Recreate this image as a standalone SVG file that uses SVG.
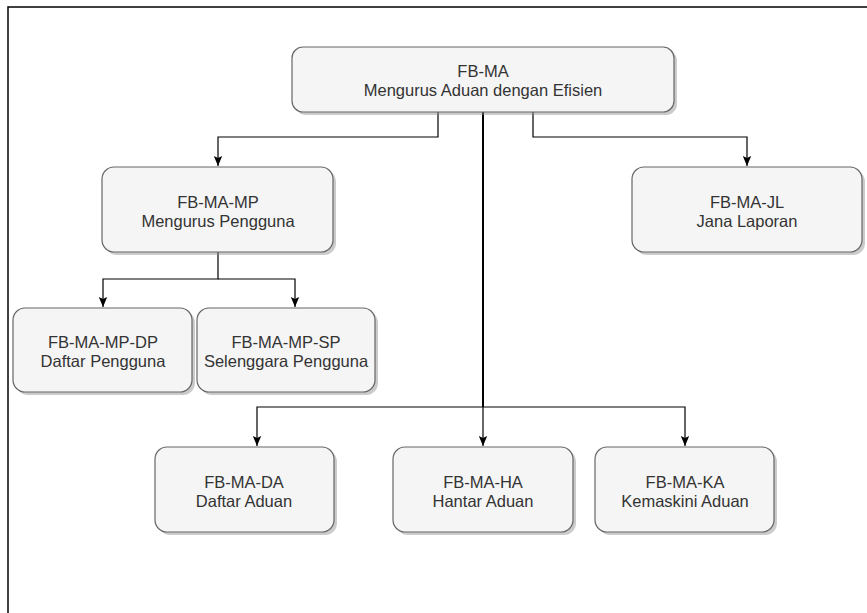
<svg xmlns="http://www.w3.org/2000/svg" width="867" height="613" viewBox="0 0 867 613">
  <style>
    .box { fill: #f5f5f5; stroke: #666666; stroke-width: 1.2; }
    .shadow { fill: #8c8c8c; opacity: 0.45; }
    .lbl { font-family: "Liberation Sans", Arial, sans-serif; font-size: 16.5px; fill: #333333; text-anchor: middle; }
    .edge { fill: none; stroke: #000000; stroke-width: 1.2; }
    .frame { fill: none; stroke: #000000; stroke-width: 1.5; }
  </style>
  <defs>
    <marker id="arr" markerUnits="userSpaceOnUse" markerWidth="10" markerHeight="10" viewBox="0 0 10 10" refX="10" refY="5" orient="auto">
      <path d="M0,0.8 L10,5 L0,9.2 L2,5 Z" fill="#000000"/>
    </marker>
  </defs>
  <rect width="867" height="613" fill="#ffffff"/>
  <path class="frame" d="M8,613 L8,7 L867,7"/>

  <g id="connectors">
    <path class="edge" d="M438,112 L438,137 L218,137 L218,166" marker-end="url(#arr)"/>
    <path class="edge" d="M533,112 L533,137 L747,137 L747,166" marker-end="url(#arr)"/>
    <path class="edge" d="M218,252 L218,279 L103,279 L103,307" marker-end="url(#arr)"/>
    <path class="edge" d="M218,279 L295,279 L295,307" marker-end="url(#arr)"/>
    <path class="edge" style="stroke-width:2" d="M483,112 L483,407"/>
    <path class="edge" d="M483,407 L483,446" marker-end="url(#arr)"/>
    <path class="edge" d="M483,407 L257,407 L257,446" marker-end="url(#arr)"/>
    <path class="edge" d="M483,407 L685,407 L685,446" marker-end="url(#arr)"/>
  </g>

  <g id="FB-MA">
    <rect class="shadow" x="295" y="50" width="382" height="65" rx="11"/>
    <rect class="box" x="292" y="47" width="382" height="65" rx="11"/>
    <text class="lbl" x="483" y="77">FB-MA</text>
    <text class="lbl" x="483" y="96">Mengurus Aduan dengan Efisien</text>
  </g>

  <g id="FB-MA-MP">
    <rect class="shadow" x="105" y="170" width="231" height="85" rx="12"/>
    <rect class="box" x="102" y="167" width="231" height="85" rx="12"/>
    <text class="lbl" x="218" y="208">FB-MA-MP</text>
    <text class="lbl" x="218" y="227">Mengurus Pengguna</text>
  </g>

  <g id="FB-MA-JL">
    <rect class="shadow" x="635" y="170" width="230" height="85" rx="12"/>
    <rect class="box" x="632" y="167" width="230" height="85" rx="12"/>
    <text class="lbl" x="747" y="208">FB-MA-JL</text>
    <text class="lbl" x="747" y="227">Jana Laporan</text>
  </g>

  <g id="FB-MA-MP-DP">
    <rect class="shadow" x="16" y="311" width="179" height="84" rx="12"/>
    <rect class="box" x="13" y="308" width="179" height="84" rx="12"/>
    <text class="lbl" x="103" y="348">FB-MA-MP-DP</text>
    <text class="lbl" x="103" y="367">Daftar Pengguna</text>
  </g>

  <g id="FB-MA-MP-SP">
    <rect class="shadow" x="200" y="311" width="178" height="84" rx="12"/>
    <rect class="box" x="197" y="308" width="178" height="84" rx="12"/>
    <text class="lbl" x="286" y="348">FB-MA-MP-SP</text>
    <text class="lbl" x="286" y="367">Selenggara Pengguna</text>
  </g>

  <g id="FB-MA-DA">
    <rect class="shadow" x="158" y="450" width="179" height="85" rx="12"/>
    <rect class="box" x="155" y="447" width="179" height="85" rx="12"/>
    <text class="lbl" x="244" y="488">FB-MA-DA</text>
    <text class="lbl" x="244" y="507">Daftar Aduan</text>
  </g>

  <g id="FB-MA-HA">
    <rect class="shadow" x="396" y="450" width="180" height="85" rx="12"/>
    <rect class="box" x="393" y="447" width="180" height="85" rx="12"/>
    <text class="lbl" x="483" y="488">FB-MA-HA</text>
    <text class="lbl" x="483" y="507">Hantar Aduan</text>
  </g>

  <g id="FB-MA-KA">
    <rect class="shadow" x="598" y="450" width="179" height="85" rx="12"/>
    <rect class="box" x="595" y="447" width="179" height="85" rx="12"/>
    <text class="lbl" x="685" y="488">FB-MA-KA</text>
    <text class="lbl" x="685" y="507">Kemaskini Aduan</text>
  </g>
</svg>
